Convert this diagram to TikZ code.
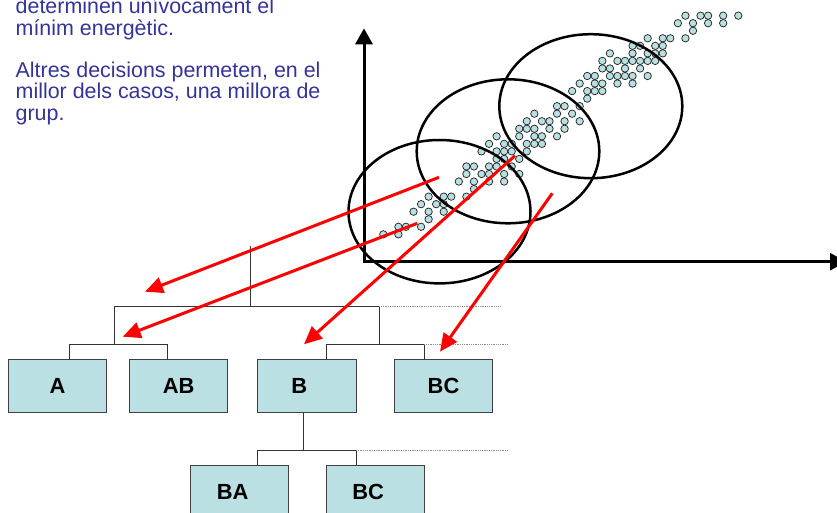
\documentclass[tikz,border=0pt]{standalone}
\usepackage{fontspec}
\setmainfont{Liberation Sans}
\usetikzlibrary{arrows.meta}
\definecolor{txtblue}{RGB}{51,51,153}
\definecolor{boxfill}{RGB}{187,224,227}
\definecolor{dotfill}{RGB}{184,224,226}
\tikzset{
  box/.style={draw=black!75, fill=boxfill, line width=0.9bp, minimum width=98.4bp,
    minimum height=53.4bp, inner sep=0pt, font=\fontsize{22}{22}\selectfont\bfseries},
  branch/.style={draw=black!80, line width=0.9bp},
  level/.style={draw=black!45, line width=0.8bp, densely dotted},
  ring/.style={line width=2.5bp},
  axis/.style={line width=3bp, {Triangle[length=16bp,width=17bp]}-{Triangle[length=16bp,width=17bp]}},
  pointer/.style={red, line width=3bp, -{Triangle[length=18bp,width=16bp]}},
  dot/.style={draw=black!85, fill=dotfill, line width=0.75bp},
  para/.style={text=txtblue, font=\fontsize{21.5}{21.8}\selectfont, align=left,
    inner sep=0pt, anchor=base west}
}
\begin{document}
\begin{tikzpicture}[x=1bp,y=-1bp]
  \useasboundingbox (0,0) rectangle (837,513);
  % text (anchored on the last line)
  \node[para] (para1) at (15.5,35.7) {determinen unívocament el\\mínim energètic.};
  \node[para] (para2) at (15.5,120.7) {Altres decisions permeten, en el\\millor dels casos, una millora de\\grup.};
  % scatter of states
  \foreach \j/\row in {0/{40,42,43,45,47}, 1/{39,41,43,45}, 2/{41}, 3/{35,37,38,40},
      4/{33,34,36,37}, 5/{30,33,35,36,37}, 6/{29,31,32,33,34,35,36}, 7/{29,30,32,34},
      8/{27,28,30,31,32,33,35}, 9/{26,28,29,31,33}, 10/{25,27,28,29}, 11/{27},
      12/{23,24,26}, 13/{20,23,25}, 14/{19,21,22,24,26}, 15/{18,19,20,22,24},
      16/{15,18,20,21,23}, 17/{14,16,17,19,20,21}, 18/{13,15,16,17,19}, 19/{15,16,18},
      20/{11,12,14,15,17}, 21/{11,13,14,16,18}, 22/{10,12,14,16}, 23/{12},
      24/{6,8,9,11}, 25/{5,7,8}, 26/{4,6,8}, 27/{6}, 28/{2,3,5}, 29/{0,2}}
    \foreach \i in \row
      \path[dot] (383.3+7.553*\i,15.67+7.54*\j) circle (3.7bp);
  % groups
  \draw[ring] (439.5,211.7) ellipse [x radius=91bp, y radius=71.7bp];
  \draw[ring] (508,151.3) ellipse [x radius=91.3bp, y radius=72bp];
  \draw[ring] (590.8,106.2) ellipse [x radius=91.5bp, y radius=72bp];
  % axes
  \coordinate (O) at (364,261.7);
  \coordinate (ytop) at (364,28.3);
  \coordinate (xend) at (846,261.7);
  \draw[axis] (ytop) -- (O) -- (xend);
  % tree
  \node[box] (A) at (57.5,386) {A};
  \node[box] (AB) at (178.7,386) {AB};
  \node[box] (B) at (306.8,386) {B\kern15bp};
  \node[box] (BC) at (443.5,386) {BC};
  \node[box] (BA) at (239.2,492.3) {BA\kern13bp};
  \node[box] (BCb) at (375.2,492.3) {BC\kern14bp};
  \coordinate (top) at (250.7,246);
  \coordinate (root) at (250.7,306.7);
  \coordinate (jl) at (114.3,306.7);
  \coordinate (jr) at (379.3,306.7);
  \coordinate (jl2) at (114.3,344.3);
  \coordinate (jr2) at (379.3,344.3);
  \coordinate (cA) at (69.3,344.3);
  \coordinate (cAB) at (167.3,344.3);
  \coordinate (cB) at (326,344.3);
  \coordinate (cBC) at (424.3,344.3);
  \coordinate (jb) at (303.3,450);
  \coordinate (cBA) at (257.7,450);
  \coordinate (cBCb) at (356,450);
  \coordinate (e1) at (500,306.7);
  \coordinate (e2) at (507,344.3);
  \coordinate (e3) at (508,450);
  \draw[branch] (top) -- (root);
  \draw[branch] (jl) -- (jr);
  \draw[branch] (jl) -- (jl2);
  \draw[branch] (jr) -- (jr2);
  \draw[branch] (cA |- A.north) -- (cA) -- (cAB) -- (cAB |- AB.north);
  \draw[branch] (cB |- B.north) -- (cB) -- (cBC) -- (cBC |- BC.north);
  \draw[branch] (jb |- B.south) -- (jb);
  \draw[branch] (cBA |- BA.north) -- (cBA) -- (cBCb) -- (cBCb |- BCb.north);
  \draw[level] (jr) -- (e1);
  \draw[level] (cBC) -- (e2);
  \draw[level] (cBCb) -- (e3);
  % red pointers
  \coordinate (s1) at (439,177.3);  \coordinate (t1) at (145,291.7);
  \coordinate (s2) at (417.3,223.3); \coordinate (t2) at (122.7,336.7);
  \coordinate (s3) at (515,155.7);  \coordinate (t3) at (304,344.3);
  \coordinate (s4) at (552.3,193.3); \coordinate (t4) at (440,351.7);
  \draw[pointer] (s1) -- (t1);
  \draw[pointer] (s2) -- (t2);
  \draw[pointer] (s3) -- (t3);
  \draw[pointer] (s4) -- (t4);
\end{tikzpicture}
\end{document}
